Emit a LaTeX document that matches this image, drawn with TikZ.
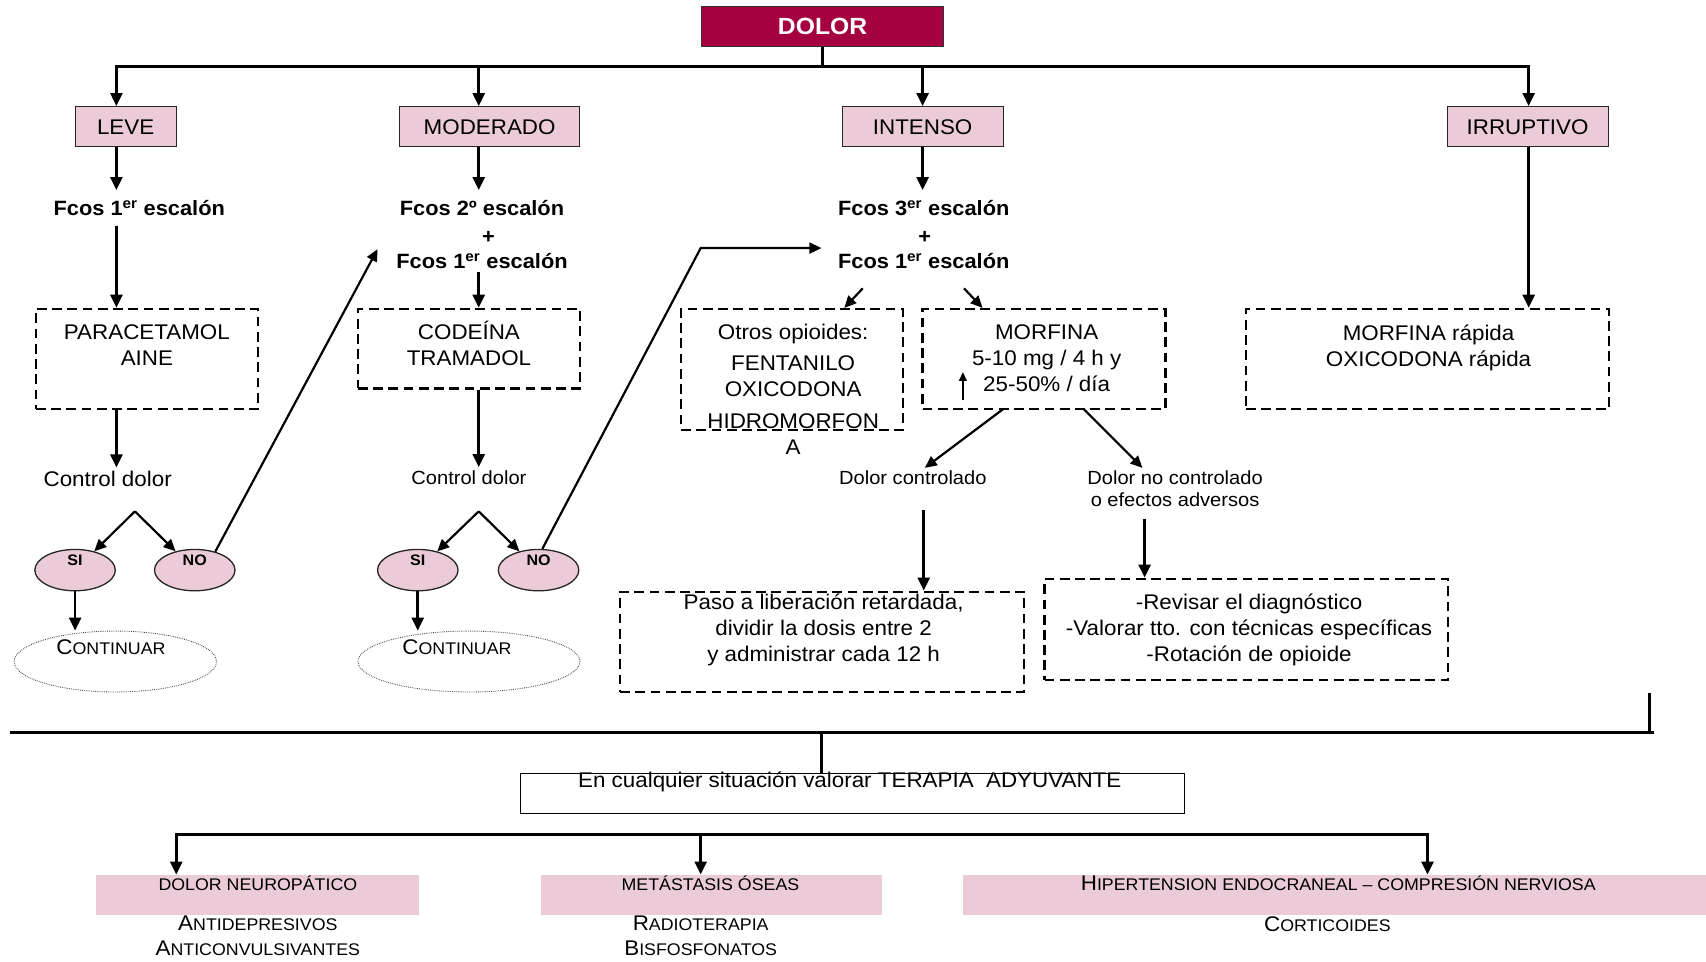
\documentclass[tikz,border=0pt]{standalone}
\usepackage{fontspec}
\setmainfont{Liberation Sans}[FakeStretch=1.055]
\usetikzlibrary{arrows.meta,shapes.geometric}
\definecolor{crim}{HTML}{A50040}
\definecolor{pinkf}{HTML}{EBCBD8}
\newcommand\smc[1]{{\fontsize{15.5}{19}\selectfont #1}}
\newcommand\ers{\textsuperscript{er}}
\begin{document}
\begin{tikzpicture}[x=1pt,y=-1pt,
  txt/.style={inner sep=0pt, font=\fontsize{19.5}{24}\selectfont, align=center},
  stxt/.style={inner sep=0pt, font=\fontsize{17.5}{21}\selectfont, align=center},
  bld/.style={inner sep=0pt, font=\bfseries\fontsize{19}{24}\selectfont},
  lab/.style={draw=black!85, line width=1pt, fill=pinkf, minimum height=37pt, inner sep=0pt, font=\fontsize{19.5}{24}\selectfont},
  dbox/.style={draw, line width=2.3pt, dash pattern=on 9pt off 5pt, inner sep=0pt},
  conn/.style={line width=2.5pt},
  arr/.style={line width=2.5pt, -{Triangle[length=12pt,width=11pt]}},
  darr/.style={line width=2.5pt, line join=miter, {Triangle[length=12pt,width=11pt]}-{Triangle[length=12pt,width=11pt]}},
  sarr/.style={line width=2pt, -{Triangle[length=11pt,width=10pt]}},
  sino/.style={ellipse, draw=black!85, line width=1.2pt, fill=pinkf, minimum width=74pt, minimum height=38pt, inner sep=0pt},
  yn/.style={inner sep=0pt, font=\bfseries\fontsize{14}{16}\selectfont},
  cont/.style={ellipse, draw=black!75, line width=0.8pt, dash pattern=on 0.7pt off 1pt, minimum height=56pt, inner sep=0pt},
  pbar/.style={fill=pinkf, minimum height=37pt, inner sep=0pt},
]
\useasboundingbox (0,0) rectangle (1568,884);

% ---- top level
\node[draw=black!80, line width=1pt, fill=crim, minimum width=222pt, minimum height=37pt, inner sep=0pt, text=white, font=\bfseries\fontsize{21.5}{26}\selectfont] (dolor) at (756,24.5) {DOLOR};
\node[lab, minimum width=93pt] (leve) at (115.5,116.5) {LEVE};
\node[lab, minimum width=166pt] (mod) at (450,116.5) {MODERADO};
\node[lab, minimum width=148pt] (int) at (848,116.5) {INTENSO};
\node[lab, minimum width=148pt] (irr) at (1404,116.5) {IRRUPTIVO};

\coordinate (xL) at (107,0);
\coordinate (xM) at (440,0);
\coordinate (xI) at (848,0);
\coordinate (xR) at (1405,0);
\coordinate (bus) at (756,61);

\draw[conn] (dolor.south) -- (bus);
\draw[darr] (leve.north -| xL) |- (bus -| xR) -- (irr.north -| xR);
\draw[arr] (bus -| xM) -- (mod.north -| xM);
\draw[arr] (bus -| xI) -- (int.north -| xI);

% ---- Fcos texts
\node[bld] (f1) at (128,191) {Fcos 1\ers{} escalón};
\node[bld] (f2) at (443,191) {Fcos 2º escalón};
\node[bld] (p2) at (449,218) {+};
\node[bld] (f2b) at (443,240) {Fcos 1\ers{} escalón};
\node[bld] (f3) at (849,191) {Fcos 3\ers{} escalón};
\node[bld] (p3) at (850,218) {+};
\node[bld] (f3b) at (849,240) {Fcos 1\ers{} escalón};

\draw[arr, shorten >=9pt] (leve.south -| xL) -- (f1.north -| xL);
\draw[arr, shorten >=9pt] (mod.south -| xM) -- (f2.north -| xM);
\draw[arr, shorten >=9pt] (int.south -| xI) -- (f3.north -| xI);

% ---- LEVE column
\node[dbox, minimum width=204pt, minimum height=92pt] (para) at (135,330) {};
\node[txt, anchor=north] (parat) at (135,298.5) {PARACETAMOL\\AINE};
\draw[arr, shorten <=9pt] (f1.south -| xL) -- (para.north -| xL);
\node[txt] (ctl1) at (99,440) {Control dolor};
\draw[arr, shorten >=3pt] (para.south -| xL) -- (ctl1.north -| xL);
\coordinate (ap1) at (124,470);
\node[sino] (si1) at (69,524) {};
\node[yn] (si1t) at (69,515) {SI};
\node[sino] (no1) at (179,524) {};
\node[yn] (no1t) at (179,515) {NO};
\draw[sarr] (ap1) -- (si1);
\draw[sarr] (ap1) -- (no1);
\node[cont, minimum width=186pt] (cont1) at (106,608) {};
\node[txt] (cont1t) at (102,595) {C\smc{ONTINUAR}};
\draw[arr] (si1.south) -- (si1.south |- cont1.north);
\coordinate (t1) at (347,229);
\draw[sarr] (no1.42) -- (t1);

% ---- MODERADO column
\node[dbox, minimum width=204pt, minimum height=73pt] (cod) at (431,320.5) {};
\node[txt, anchor=north] (codt) at (431,295) {CODEÍNA\\TRAMADOL};
\draw[arr, shorten <=3pt] (f2b.south -| xM) -- (cod.north -| xM);
\node[stxt] (ctl2) at (431,439) {Control dolor};
\draw[arr, shorten >=3pt] (cod.south -| xM) -- (ctl2.north -| xM);
\coordinate (ap2) at (440,470);
\node[sino] (si2) at (384,524) {};
\node[yn] (si2t) at (384,515) {SI};
\node[sino] (no2) at (495,524) {};
\node[yn] (no2t) at (495,515) {NO};
\draw[sarr] (ap2) -- (si2);
\draw[sarr] (ap2) -- (no2);
\node[cont, minimum width=204pt] (cont2) at (431,608) {};
\node[txt] (cont2t) at (420,595) {C\smc{ONTINUAR}};
\draw[arr] (si2.south) -- (si2.south |- cont2.north);
\coordinate (k2) at (644,228);
\coordinate (t2) at (755,228);
\draw[sarr] (no2.80) -- (k2) -- (t2);

% ---- INTENSO column
\node[dbox, minimum width=204pt, minimum height=111pt] (otr) at (728,339.5) {};
\node[txt, anchor=north] (otrt) at (729,297.5) {Otros opioides:\\[5pt]FENTANILO\\OXICODONA\\[5pt]HIDROMORFON\\A};
\node[dbox, minimum width=223pt, minimum height=92pt] (morf) at (959.5,330) {};
\node[txt, anchor=north] (morft) at (962,298) {MORFINA\\5-10 mg / 4 h y\\25-50\% / día};
\coordinate (upa) at (885,368);
\coordinate (upb) at (885,342);
\draw[line width=1.5pt, -{Triangle[length=8pt,width=7pt]}] (upa) -- (upb);
\coordinate (s1a) at (793,265);
\coordinate (s1b) at (776,283);
\coordinate (s2a) at (886,265);
\coordinate (s2b) at (903,283);
\draw[sarr] (s1a) -- (s1b);
\draw[sarr] (s2a) -- (s2b);

\node[stxt] (dc) at (839,439) {Dolor controlado};
\node[stxt, anchor=north] (dnc) at (1080,432) {Dolor no controlado\\o efectos adversos};
\coordinate (m1) at (922,376);
\coordinate (m1e) at (850,430);
\coordinate (m2) at (996,376);
\coordinate (m2e) at (1050,430);
\draw[sarr] (m1) -- (m1e);
\draw[sarr] (m2) -- (m2e);

\node[dbox, minimum width=371pt, minimum height=92pt] (paso) at (755.5,590) {};
\node[txt, anchor=north] (pasot) at (757,545.5) {Paso a liberación retardada,\\dividir la dosis entre 2\\y administrar cada 12 h};
\node[dbox, minimum width=371pt, minimum height=93pt] (rev) at (1145.5,578.5) {};
\node[txt, anchor=north] (revt) at (1148,545.5) {-Revisar el diagnóstico\\-Valorar tto. con técnicas específicas\\-Rotación de opioide};
\coordinate (d1) at (849,469);
\coordinate (d2) at (1052,477);
\draw[arr] (d1) -- (paso.north -| d1);
\draw[arr] (d2) -- (rev.north -| d2);

% ---- IRRUPTIVO
\node[dbox, minimum width=334pt, minimum height=92pt] (irrb) at (1312,330) {};
\node[txt, anchor=north] (irrt) at (1313,298) {MORFINA rápida\\OXICODONA rápida};
\draw[arr] (irr.south -| xR) -- (irrb.north -| xR);

% ---- bottom
\coordinate (hl) at (9,673);
\coordinate (hr) at (1520,673);
\coordinate (tk) at (1516,637);
\draw[conn] (hl) -- (hr);
\draw[conn] (tk) -- (tk |- hl);
\node[draw, line width=1pt, minimum width=611pt, minimum height=37pt, inner sep=0pt] (adj) at (783.5,729.5) {};
\node[txt] (adjt) at (781,719) {En cualquier situación valorar TERAPIA\ \ ADYUVANTE};
\coordinate (stem) at (755,673);
\draw[conn] (stem) -- (stem |- adj.north);

\node[pbar, minimum width=297pt] (bar1) at (236.5,822.5) {};
\node[pbar, minimum width=314pt] (bar2) at (654,822.5) {};
\node[pbar, minimum width=683pt] (bar3) at (1226.5,822.5) {};
\coordinate (b2) at (644,767);
\coordinate (bxl) at (162,0);
\coordinate (bxr) at (1312,0);
\draw[darr] (bar1.north -| bxl) |- (b2 -| bxr) -- (bar3.north -| bxr);
\draw[arr] (b2) -- (bar2.north -| b2);

\node[txt] (bar1t) at (237,812) {\smc{DOLOR NEUROPÁTICO}};
\node[txt] (bar2t) at (653,812) {\smc{METÁSTASIS ÓSEAS}};
\node[txt] (bar3t) at (1230,812) {H\smc{IPERTENSION ENDOCRANEAL – COMPRESIÓN NERVIOSA}};
\node[txt] (n1) at (237,849) {A\smc{NTIDEPRESIVOS}};
\node[txt] (n2) at (237,872) {A\smc{NTICONVULSIVANTES}};
\node[txt] (o1) at (644,849) {R\smc{ADIOTERAPIA}};
\node[txt] (o2) at (644,872) {B\smc{ISFOSFONATOS}};
\node[txt] (h1) at (1220,849) {C\smc{ORTICOIDES}};
\end{tikzpicture}
\end{document}
